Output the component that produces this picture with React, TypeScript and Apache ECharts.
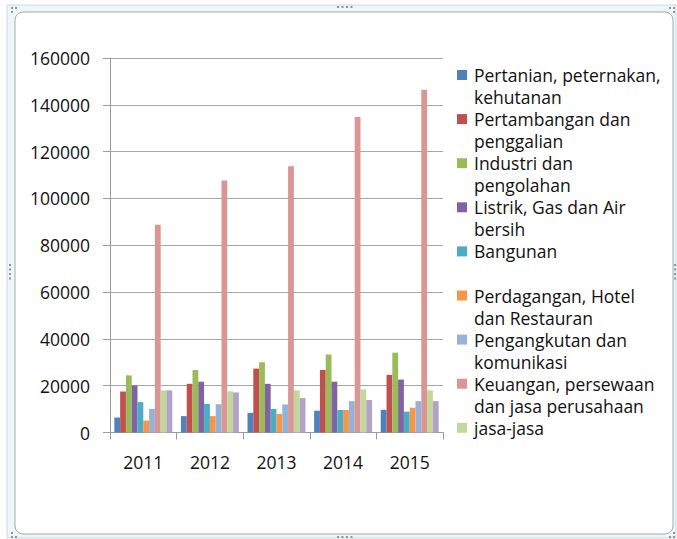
import React, { useEffect, useRef } from "react";
import * as echarts from "echarts";

const years = ["2011", "2012", "2013", "2014", "2015"];

const seriesLabels = [
  "Pertanian, peternakan,\nkehutanan",
  "Pertambangan dan\npenggalian",
  "Industri dan\npengolahan",
  "Listrik, Gas dan Air\nbersih",
  "Bangunan",
  "Perdagangan, Hotel\ndan Restauran",
  "Pengangkutan dan\nkomunikasi",
  "Keuangan, persewaan\ndan jasa perusahaan",
  "jasa-jasa",
  "Lainnya",
];

const pertanian = [6400, 7000, 8400, 9300, 9700];
const pertambangan = [17500, 20800, 27300, 26700, 24600];
const industri = [24400, 26700, 30000, 33300, 34100];
const listrik = [20100, 21700, 20800, 21700, 22600];
const bangunan = [13000, 12200, 10100, 9600, 8900];
const perdagangan = [5100, 7000, 7900, 9600, 10600];
const pengangkutan = [10100, 12100, 12000, 13400, 13400];
const keuangan = [88800, 107700, 113700, 134800, 146400];
const jasa = [18000, 17600, 18000, 18400, 18000];
const lainnya = [18000, 17100, 14700, 13900, 13400];

const seriesValues = [
  pertanian,
  pertambangan,
  industri,
  listrik,
  bangunan,
  perdagangan,
  pengangkutan,
  keuangan,
  jasa,
  lainnya,
];

const colors = [
  "#4F81BD",
  "#C0504D",
  "#9BBB59",
  "#8064A2",
  "#4BACC6",
  "#F79646",
  "#95B3D7",
  "#D99694",
  "#C3D69B",
  "#B3A2C7",
];

const legendCount = 9;
const FONT = "'Open Sans', sans-serif";

export default function App() {
  const ref = useRef<HTMLDivElement>(null);

  useEffect(() => {
    if (!ref.current) return;
    const chart = echarts.init(ref.current, null, { renderer: "svg" });

    const graphics: any[] = [];
    // frame
    graphics.push({
      type: "rect",
      z: -10,
      shape: { x: 7, y: 5, width: 669, height: 533 },
      style: { fill: "#eef6f8", stroke: "#c9dadf", lineWidth: 1 },
      silent: true,
    });
    graphics.push({
      type: "rect",
      z: -9,
      shape: { x: 15, y: 12, width: 658, height: 522, r: 8 },
      style: { fill: "#ffffff", stroke: "#a3abae", lineWidth: 1 },
      silent: true,
    });
    // handles
    const dot = (x: number, y: number) => ({
      type: "rect",
      z: -8,
      shape: { x, y, width: 2, height: 2 },
      style: { fill: "#8c9598" },
      silent: true,
    });
    for (let k = 0; k < 4; k++) {
      graphics.push(dot(337 + k * 4.5, 6));
      graphics.push(dot(337 + k * 4.5, 536));
      graphics.push(dot(9, 264 + k * 4.5));
      graphics.push(dot(674, 264 + k * 4.5));
    }
    [
      [11, 7], [15, 7], [11, 11],
      [669, 7], [673, 7], [673, 11],
      [11, 532], [11, 536], [15, 536],
      [673, 532], [673, 536], [669, 536],
    ].forEach(([x, y]) => graphics.push(dot(x, y)));

    // legend
    for (let i = 0; i < legendCount; i++) {
      const cy = 75 + 44.1 * i;
      graphics.push({
        type: "rect",
        shape: { x: 457, y: cy - 5, width: 10, height: 10 },
        style: { fill: colors[i] },
      });
      graphics.push({
        type: "text",
        x: 474,
        y: cy - 11,
        style: {
          text: seriesLabels[i],
          fontSize: 17.5,
          fontFamily: FONT,
          fill: "#111111",
          lineHeight: 22,
          verticalAlign: "top",
        },
      });
    }

    chart.setOption({
      animation: false,
      backgroundColor: "#ffffff",
      color: colors,
      grid: { left: 110, right: 234, top: 58, bottom: 106.5, containLabel: false },
      xAxis: {
        type: "category",
        data: years,
        axisLine: { lineStyle: { color: "#9a9a9a", width: 1 } },
        axisTick: { show: true, length: 7, lineStyle: { color: "#9a9a9a" } },
        axisLabel: { fontSize: 17.5, fontFamily: FONT, color: "#111111", margin: 20 },
      },
      yAxis: {
        type: "value",
        min: 0,
        max: 160000,
        interval: 20000,
        axisLine: { show: true, lineStyle: { color: "#9a9a9a", width: 1 } },
        axisTick: { show: true, length: 7, lineStyle: { color: "#9a9a9a" } },
        splitLine: { lineStyle: { color: "#a6a6a6", width: 1 } },
        axisLabel: {
          fontSize: 17.5,
          fontFamily: FONT,
          color: "#111111",
          margin: 20,
          formatter: (v: number) => String(v),
        },
      },
      series: seriesValues.map((vals, i) => ({
        type: "bar",
        name: seriesLabels[i].replace("\n", " "),
        data: vals,
        barGap: "0%",
        barCategoryGap: "13%",
        itemStyle: { color: colors[i] },
      })),
      graphic: graphics,
    });

    return () => chart.dispose();
  }, []);

  return (
    <div
      ref={ref}
      style={{ position: "absolute", left: 0, top: 0, width: 677, height: 539 }}
    />
  );
}
